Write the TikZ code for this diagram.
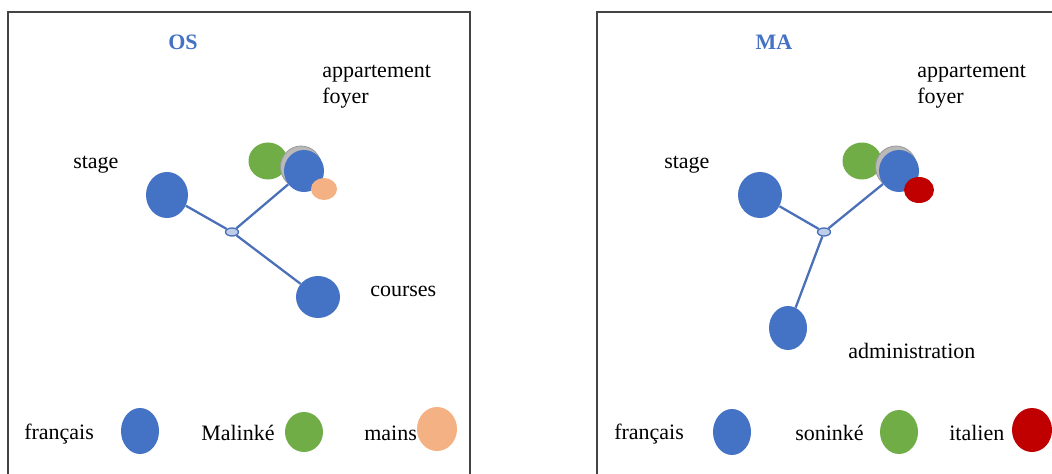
\documentclass[tikz,border=0pt]{standalone}
\usepackage{fontspec}
\setmainfont{Liberation Serif}
\usetikzlibrary{shapes.geometric}
\definecolor{cblue}{HTML}{4472C4}
\definecolor{cgreen}{HTML}{70AD47}
\definecolor{cpeach}{HTML}{F4B183}
\definecolor{cred}{HTML}{C00000}
\definecolor{clink}{HTML}{4A70B8}
\definecolor{cframe}{HTML}{444444}
\begin{document}
\begin{tikzpicture}[x=0.75pt,y=-0.75pt,
  dot/.style={ellipse,inner sep=0pt,draw=none},
  sz/.style 2 args={minimum width=#1*0.75pt,minimum height=#2*0.75pt},
  lbl/.style={anchor=base west,inner sep=0pt,font=\fontsize{16.5}{19.5}\selectfont},
  ttl/.style={anchor=base,inner sep=0pt,text=cblue,font=\fontsize{16.5}{19.5}\selectfont\bfseries},
  link/.style={draw=clink,line width=1.7pt},
  junc/.style={ellipse,inner sep=0pt,draw=clink,line width=1pt,fill=cblue!35,sz={13}{8}},
  shadow/.style={dot,fill=gray!55,draw=gray!80,line width=0.6pt},
  frame/.style={draw=cframe,line width=1.1pt}]
\useasboundingbox (0,0) rectangle (1052,474);
\clip (0,0) rectangle (1052,474);
\fill[white] (0,0) rectangle (1052,474);

% frames
\draw[frame] (8,490) -- (8,12) -- (470,12) -- (470,490);
\draw[frame] (597,490) -- (597,12) -- (1060,12);

% ===== left panel: OS =====
\node[ttl] (os) at (183,50) {OS};
\node[lbl,align=left,anchor=north west] (app1t) at (322,65) {appartement\\foyer};
\node[lbl] (stage1t) at (73,168) {stage};
\node[lbl] (cour1t) at (370,296) {courses};

\node[dot,fill=cblue,sz={42}{46}] (stage1) at (167,195) {};
\node[dot,fill=cgreen,sz={39}{37}] (green1) at (268,161) {};
\node[shadow,sz={41}{42}] (sh1) at (301,167) {};
\node[dot,fill=cblue,sz={40}{42}] (app1) at (304,171) {};
\node[dot,fill=cpeach,sz={26}{22}] (peach1) at (324,189) {};
\node[dot,fill=cblue,sz={44}{42}] (cour1) at (318,297) {};
\node[junc] (j1) at (232,232) {};

\draw[link] (stage1) -- (j1);
\draw[link] (j1) -- (app1);
\draw[link] (j1) -- (cour1);

% legend left
\node[lbl] (fr1t) at (24,439) {français};
\node[dot,fill=cblue,sz={38}{46}] (fr1) at (140,431) {};
\node[lbl] (mal1t) at (201,440) {Malinké};
\node[dot,fill=cgreen,sz={38}{40}] (mal1) at (304,432) {};
\node[lbl] (main1t) at (364,440) {mains};
\node[dot,fill=cpeach,sz={40}{44}] (main1) at (437,429) {};

% ===== right panel: MA =====
\node[ttl] (ma) at (774,50) {MA};
\node[lbl,align=left,anchor=north west] (app2t) at (917,65) {appartement\\foyer};
\node[lbl] (stage2t) at (664,168) {stage};
\node[lbl] (adm2t) at (848,358) {administration};

\node[dot,fill=cblue,sz={44}{46}] (stage2) at (760,195) {};
\node[dot,fill=cgreen,sz={39}{37}] (green2) at (862,161) {};
\node[shadow,sz={41}{42}] (sh2) at (896,167) {};
\node[dot,fill=cblue,sz={40}{42}] (app2) at (899,171) {};
\node[dot,fill=cred,sz={30}{26}] (red2) at (919,190) {};
\node[dot,fill=cblue,sz={38}{44}] (adm2) at (788,328) {};
\node[junc] (j2) at (824,232) {};

\draw[link] (stage2) -- (j2);
\draw[link] (j2) -- (app2);
\draw[link] (j2) -- (adm2);

% legend right
\node[lbl] (fr2t) at (614,439) {français};
\node[dot,fill=cblue,sz={38}{46}] (fr2) at (732,432) {};
\node[lbl] (son2t) at (795,440) {soninké};
\node[dot,fill=cgreen,sz={38}{44}] (son2) at (899,432) {};
\node[lbl] (ita2t) at (949,440) {italien};
\node[dot,fill=cred,sz={40}{44}] (ita2) at (1032,430) {};
\end{tikzpicture}
\end{document}
